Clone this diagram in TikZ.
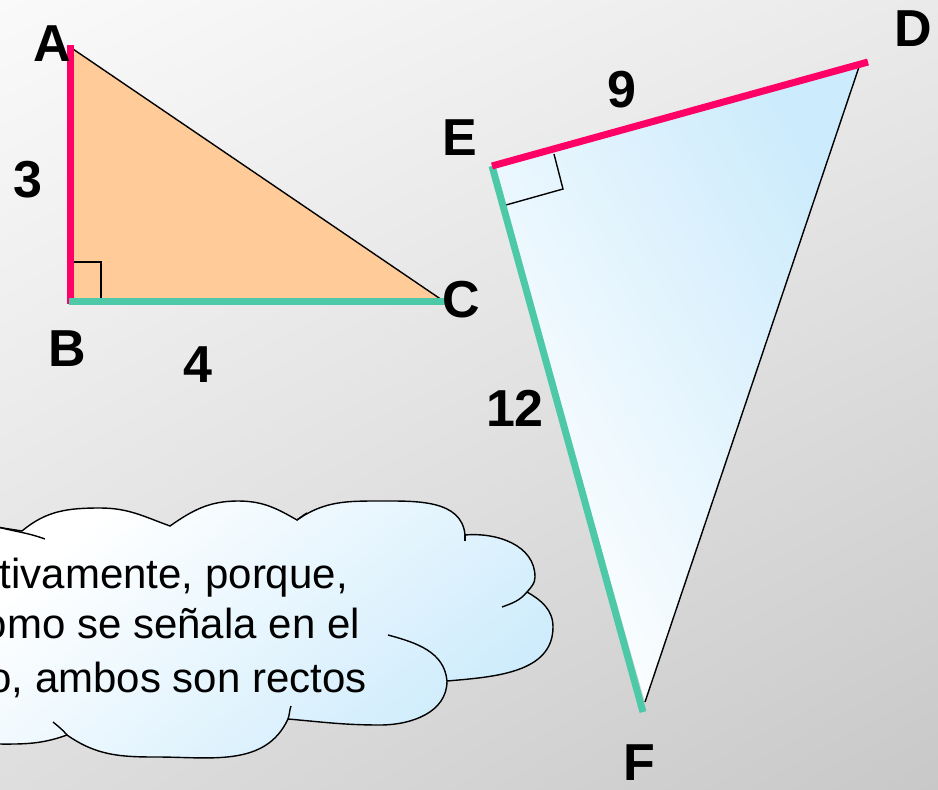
\documentclass[tikz,border=0pt]{standalone}
\usepackage{fontspec}
\setmainfont{Liberation Sans}
\usetikzlibrary{shadings}
\definecolor{pinkl}{RGB}{255,0,102}
\definecolor{teall}{RGB}{77,201,168}
\definecolor{orangef}{RGB}{255,204,153}
\definecolor{ltblue}{RGB}{204,235,252}
\definecolor{bgUL}{RGB}{250,250,250}
\definecolor{bgUR}{RGB}{234,234,234}
\definecolor{bgLL}{RGB}{222,222,222}
\definecolor{bgLR}{RGB}{200,200,200}
\begin{document}
\begin{tikzpicture}[x=1pt,y=1pt,
  lbl/.style={font=\bfseries\fontsize{52}{52}\selectfont, inner sep=0pt},
  pinkedge/.style={draw=pinkl,line width=7pt},
  tealedge/.style={draw=teall,line width=7pt},
  blackedge/.style={draw=black,line width=1.4pt},
  cloudtxt/.style={font=\fontsize{42}{42}\selectfont,inner sep=0pt,anchor=base east},
  trishade/.style={top color=ltblue,middle color=white!90!ltblue,bottom color=white,shading angle=-60},
  cloudshade/.style={top color=white,bottom color=ltblue,shading angle=40}]
\useasboundingbox (0,0) rectangle (938,-790);
\clip (0,0) rectangle (938,-790);
\shade[upper left=bgUL,upper right=bgUR,lower left=bgLL,lower right=bgLR] (0,0) rectangle (938,-790);

% triangle ABC
\coordinate (A) at (70,-47);
\coordinate (B) at (70,-300);
\coordinate (C) at (442,-300);
\coordinate (Atop) at (70,-45);
\coordinate (Bbot) at (70,-304);
\coordinate (Bl) at (69,-301);
\coordinate (Cr) at (447,-301);
\coordinate (qa) at (73,-262);
\coordinate (qb) at (101,-262);
\coordinate (qc) at (101,-300);
\fill[orangef] (A) -- (B) -- (C) -- cycle;
\draw[blackedge] (A) -- (C);
\draw[blackedge] (qa) -- (qb) -- (qc);
\draw[pinkedge] (Atop) -- (Bbot);
\draw[tealedge] (Bl) -- (Cr);

% triangle DEF
\coordinate (E) at (492,-166);
\coordinate (D) at (868,-62);
\coordinate (F) at (643,-712);
\coordinate (Dk) at (860,-64);
\coordinate (Fk) at (645,-702);
\coordinate (ra) at (554,-154);
\coordinate (rb) at (563,-189);
\coordinate (rc) at (506,-205);
\shade[trishade] (E) -- (Dk) -- (Fk) -- cycle;
\draw[blackedge] (Dk) -- (Fk);
\draw[blackedge] (ra) -- (rb) -- (rc);
\draw[tealedge] (E) -- (F);
\draw[pinkedge] (E) -- (D);

% labels
\node[lbl] (lA) at (52,-44) {A};
\node[lbl] (lB) at (67,-349) {B};
\node[lbl] (lC) at (461,-300) {C};
\node[lbl] (lD) at (913,-29) {D};
\node[lbl] (lE) at (460,-138) {E};
\node[lbl] (lF) at (639,-763) {F};
\node[lbl] (l3) at (28,-180) {3};
\node[lbl] (l4) at (198,-365) {4};
\node[lbl] (l9) at (622,-90) {9};
\node[lbl] (l12) at (515,-408) {12};

% cloud
\shade[cloudshade,draw=black,line width=1.4pt]
  (-10,-526) -- (22,-531)
  to[out=40,in=180] (100,-508) to[out=0,in=160] (170,-526)
  to[out=35,in=180] (238,-501) to[out=0,in=150] (297,-520)
  to[out=35,in=180] (380,-501) to[out=0,in=95] (465,-535)
  to[out=5,in=90] (535,-577) to[out=-90,in=50] (527,-592)
  to[out=-30,in=90] (553,-627) to[out=-90,in=5] (447,-681)
  to[out=-90,in=0] (380,-725) to[out=180,in=-5] (288,-719)
  to[out=-115,in=0] (157,-757) to[out=180,in=-35] (67,-735)
  to[out=-160,in=0] (-10,-744) -- cycle;
\draw[blackedge] (-2,-527) to[out=-15,in=160] (45,-539);
\draw[blackedge] (527,-592) to[out=-130,in=20] (502,-607);
\draw[blackedge] (388,-635) to[out=-15,in=95] (447,-681);
\draw[blackedge] (288,-719) to[out=70,in=-110] (291,-706);
\draw[blackedge] (67,-735) to[out=130,in=-40] (53,-722);
\draw[blackedge] (465,-535) -- (465,-541);
\draw[blackedge] (297,-520) to[out=35,in=-150] (307,-513);

\node[cloudtxt] (t1) at (348,-588) {tivamente, porque,};
\node[cloudtxt] (t2) at (360,-638) {omo se señala en el};
\node[cloudtxt] (t3) at (367,-692) {o, ambos son rectos};
\end{tikzpicture}
\end{document}
